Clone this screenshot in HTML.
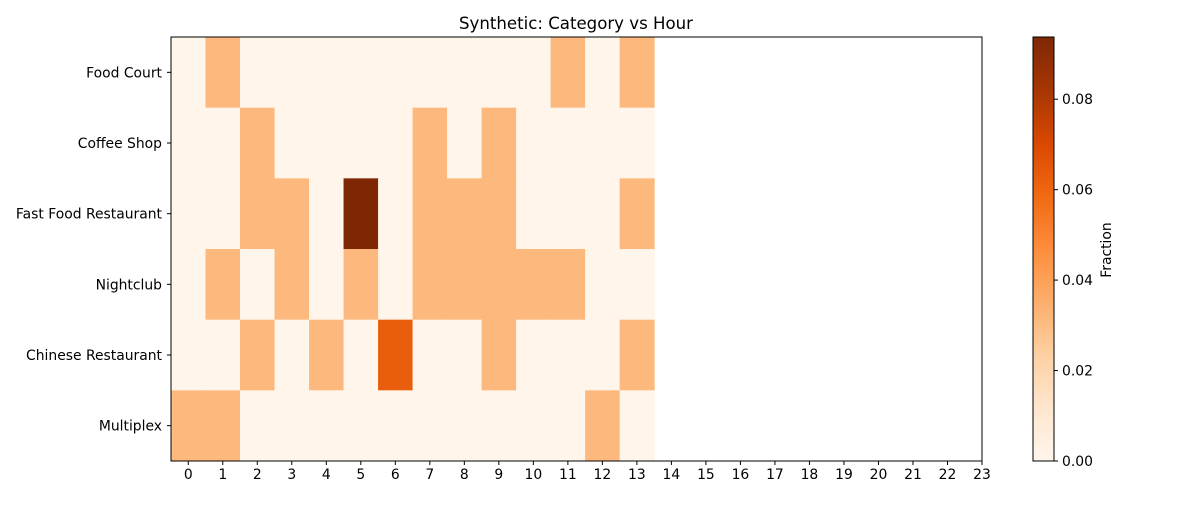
<!DOCTYPE html>
<html><head><meta charset="utf-8"><style>
body{margin:0;background:#fff;font-family:"Liberation Sans","DejaVu Sans",sans-serif}
svg text{font-family:"DejaVu Sans","Liberation Sans",sans-serif}
</style></head><body>
<svg id="chart" width="1200" height="500" xmlns="http://www.w3.org/2000/svg">
<defs><linearGradient id="cb" x1="0" y1="1" x2="0" y2="0">
<stop offset="0" stop-color="#fff5eb"/><stop offset="0.125" stop-color="#fee6ce"/><stop offset="0.25" stop-color="#fdd0a2"/><stop offset="0.375" stop-color="#fdae6b"/><stop offset="0.5" stop-color="#fd8d3c"/><stop offset="0.625" stop-color="#f16913"/><stop offset="0.75" stop-color="#d94801"/><stop offset="0.875" stop-color="#a63603"/><stop offset="1" stop-color="#7f2704"/>
</linearGradient><clipPath id="clip"><rect x="171" y="37" width="811" height="424"/></clipPath></defs>
<text x="576" y="29" text-anchor="middle" font-size="16.6">Synthetic: Category vs Hour</text>
<g id="cells" clip-path="url(#clip)"></g>
<rect x="171" y="37" width="811" height="424" fill="none" stroke="#000" stroke-width="1"/>
<g id="axes"></g>
<rect x="1033" y="37" width="21" height="424" fill="url(#cb)" stroke="#000" stroke-width="1"/>
<g id="cbticks"></g>
<text x="1111" y="250" font-size="13.9" text-anchor="middle" transform="rotate(-90 1111 250)">Fraction</text>
</svg>
<script>
const categories=["Food Court","Coffee Shop","Fast Food Restaurant","Nightclub","Chinese Restaurant","Multiplex"];
const hours=[0,1,2,3,4,5,6,7,8,9,10,11,12,13,14,15,16,17,18,19,20,21,22,23];
const a=0.03125;
const values=[
[0,a,0,0,0,0,0,0,0,0,0,a,0,a],
[0,0,a,0,0,0,0,a,0,a,0,0,0,0],
[0,0,a,a,0,0.09375,0,a,a,a,0,0,0,a],
[0,a,0,a,0,a,0,a,a,a,a,a,0,0],
[0,0,a,0,a,0,0.0625,0,0,a,0,0,0,a],
[a,a,0,0,0,0,0,0,0,0,0,0,a,0]
];
const cbTicks=[0,0.02,0.04,0.06,0.08];
const vmax=0.09375;
const X0=171,X1=982,Y0=37,Y1=461;
const cw=(X1-X0)/(hours.length-0.5), rh=(Y1-Y0)/categories.length;
const xs=i=>X0+i*cw, ys=j=>Y0+j*rh, cy=v=>Y1-(v/vmax)*(Y1-Y0);
const stops=["#fff5eb","#fee6ce","#fdd0a2","#fdae6b","#fd8d3c","#f16913","#d94801","#a63603","#7f2704"];
function hex(c){return [1,3,5].map(i=>parseInt(c.substr(i,2),16));}
function color(v){let t=Math.min(1,Math.max(0,v/vmax))*(stops.length-1);let i=Math.min(Math.floor(t),stops.length-2);let f=t-i;let p=hex(stops[i]),q=hex(stops[i+1]);return "rgb("+p.map((x,k)=>Math.round(x+(q[k]-x)*f)).join(",")+")";}
const NS="http://www.w3.org/2000/svg";
function mk(t,at,parent){const e=document.createElementNS(NS,t);for(const k in at)e.setAttribute(k,at[k]);parent.appendChild(e);return e;}
const cells=document.getElementById("cells"),axes=document.getElementById("axes"),cbt=document.getElementById("cbticks");
values.forEach((row,j)=>row.forEach((v,i)=>{
 const r=mk("rect",{x:xs(i),y:ys(j),width:cw+0.5,height:rh+0.5,fill:color(v)},cells);
 
 
}));
hours.forEach((h,i)=>{
 const x=xs(i)+cw/2;
 mk("line",{x1:x,y1:Y1,x2:x,y2:Y1+4,stroke:"#000"},axes);
 const t=mk("text",{x:x,y:Y1+18,"font-size":13.9,"text-anchor":"middle"},axes);t.textContent=h;
 
 
});
categories.forEach((c,j)=>{
 const y=ys(j)+rh/2;
 mk("line",{x1:X0-4,y1:y,x2:X0,y2:y,stroke:"#000"},axes);
 const t=mk("text",{x:X0-9,y:y+5,"font-size":13.9,"text-anchor":"end"},axes);t.textContent=c;
 
 
});
cbTicks.forEach(v=>{
 const y=cy(v);
 mk("line",{x1:1054,y1:y,x2:1058,y2:y,stroke:"#000"},cbt);
 const t=mk("text",{x:1062,y:y+5,"font-size":13.9},cbt);t.textContent=v.toFixed(2);
 
 
});
</script>
</body></html>
